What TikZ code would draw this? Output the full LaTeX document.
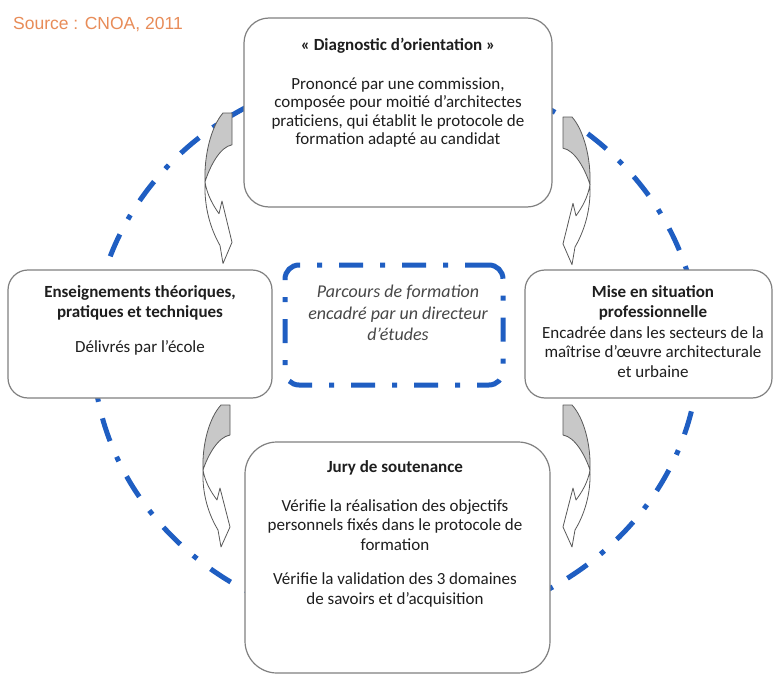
\documentclass[tikz,border=0pt]{standalone}
\usepackage{fontspec}
\setmainfont{Carlito}
\newfontfamily\srcfont{Liberation Sans}
\definecolor{dblue}{RGB}{31,94,194}
\definecolor{boxgray}{RGB}{128,128,128}
\definecolor{txt}{RGB}{30,30,30}
\definecolor{arrowgray}{RGB}{200,200,200}
\definecolor{srcorange}{RGB}{232,140,88}
\tikzset{
 box/.style={draw=boxgray, line width=1.2pt, fill=white, rounded corners=25pt, inner sep=0pt},
 ttl/.style={font=\bfseries\fontsize{17}{19.5}\selectfont, text=txt, align=center, inner sep=0pt},
 body/.style={font=\fontsize{17}{19.8}\selectfont, text=txt, align=center, inner sep=0pt},
 dashdot/.style={draw=dblue, line width=5pt, dash pattern=on 24pt off 17pt on 5pt off 17pt},
 arrowline/.style={draw=black!65, line width=0.8pt, line join=round},
}
\newcommand{\myarrow}[4]{%
 \begin{scope}[shift={(#1,#2)}, xscale=#3, yscale=#4]
  \filldraw[arrowline, fill=arrowgray] (0,0) -- (9,0) .. controls (21,13) and (28,40) .. (27,65) .. controls (22,50) and (12,32) .. (0,30) -- cycle;
  \filldraw[arrowline, fill=white] (27,65) .. controls (28,90) and (21,110) .. (12,125) -- (9,142) -- (0,122) -- (10,83) -- (13,95) .. controls (19,87) and (25,77) .. (27,65) -- cycle;
 \end{scope}}
\begin{document}
\begin{tikzpicture}[x=1pt,y=-1pt]
\useasboundingbox (0,0) rectangle (777,677);
\fill[white] (0,0) rectangle (777,677);
\draw[dashdot] (396,349) ellipse [x radius=303, y radius=278];
\node[box, minimum width=308pt, minimum height=189pt] (diag) at (398,112.5) {};
\node[box, minimum width=264pt, minimum height=128pt, rounded corners=20pt] (ens) at (140,334) {};
\node[box, minimum width=247pt, minimum height=128pt, rounded corners=20pt] (mise) at (648.5,334) {};
\node[box, minimum width=305pt, minimum height=231pt, rounded corners=32pt] (jury) at (397.5,557.5) {};
\node[dashdot, rounded corners=14pt, minimum width=218pt, minimum height=120pt, inner sep=0pt] (parc) at (394,325) {};
\node[ttl] (diagT) at (398,46) {« Diagnostic d’orientation »};
\node[body, font=\fontsize{17}{18.5}\selectfont] (diagB) at (398,112.5) {Prononcé par une commission,\\composée pour moitié d’architectes\\praticiens, qui établit le protocole de\\formation adapté au candidat};
\node[ttl] (ensT) at (140,303) {Enseignements théoriques,\\pratiques et techniques};
\node[body] (ensB) at (140,348) {Délivrés par l’école};
\node[ttl] (miseT) at (653,303) {Mise en situation\\professionnelle};
\node[body] (miseB) at (653,352) {Encadrée dans les secteurs de la\\maîtrise d’œuvre architecturale\\et urbaine};
\node[ttl] (juryT) at (395,468) {Jury de soutenance};
\node[body] (juryB1) at (395,525) {Vérifie la réalisation des objectifs\\personnels fixés dans le protocole de\\formation};
\node[body] (juryB2) at (395,590) {Vérifie la validation des 3 domaines\\de savoirs et d’acquisition};
\node[body, font=\itshape\fontsize{18}{21.5}\selectfont, text=black!72] (parcT) at (398,313) {Parcours de formation\\encadré par un directeur\\d’études};
\node[anchor=west, font=\srcfont\fontsize{17.5}{20}\selectfont, text=srcorange, inner sep=0pt] (src) at (13,25) {Source : CNOA, 2011};
\myarrow{563}{405}{1}{1}
\myarrow{563}{117}{1}{1.04}
\myarrow{230}{405}{-1}{1}
\myarrow{232}{113}{-1}{1.06}
\end{tikzpicture}
\end{document}
